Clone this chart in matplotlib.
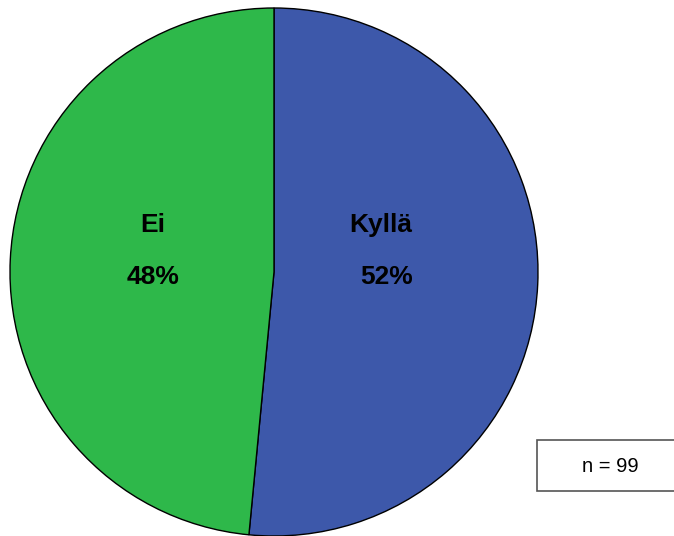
import matplotlib
matplotlib.use("Agg")
import matplotlib.pyplot as plt
from matplotlib.patches import Rectangle

plt.rcParams['font.family'] = ['Liberation Sans', 'DejaVu Sans']

categories = ["Kyllä", "Ei"]
counts = [51, 48]
colors = ["#3D58AA", "#2EB84A"]
n_total = sum(counts)

W, H = 674, 536
fig = plt.figure(figsize=(W / 100, H / 100), dpi=100)

# pie axes: centre (274, 272), radius 264 px
cx, cy, r = 274, 272, 264
ax = fig.add_axes([(cx - r) / W, (H - cy - r) / H, 2 * r / W, 2 * r / H])
wedges, _ = ax.pie(counts, colors=colors, startangle=90, counterclock=False,
                   wedgeprops=dict(edgecolor="black", linewidth=1.0))
ax.set_xlim(-1, 1)
ax.set_ylim(-1, 1)
ax.set_aspect("equal")
ax.axis("off")

# labels placed in figure pixel coordinates
label_pos = {"Kyllä": ((381, 225), (387, 277)), "Ei": ((153, 225), (153, 277))}
for cat, cnt in zip(categories, counts):
    (nx, ny), (px, py) = label_pos[cat]
    pct = round(100 * cnt / n_total)
    fig.text(nx / W, 1 - ny / H, cat, ha="center", va="center",
             fontsize=19, fontweight="bold")
    fig.text(px / W, 1 - py / H, f"{pct}%", ha="center", va="center",
             fontsize=19, fontweight="bold")

# sample size box
box = Rectangle((537 / W, 1 - 491 / H), 150 / W, 51 / H, transform=fig.transFigure,
                facecolor="white", edgecolor="#555555", linewidth=1.2, clip_on=False)
fig.patches.append(box)
fig.text(610 / W, 1 - 467 / H, f"n = {n_total}", ha="center", va="center", fontsize=14.5)

fig.savefig("out.png", dpi=100)
